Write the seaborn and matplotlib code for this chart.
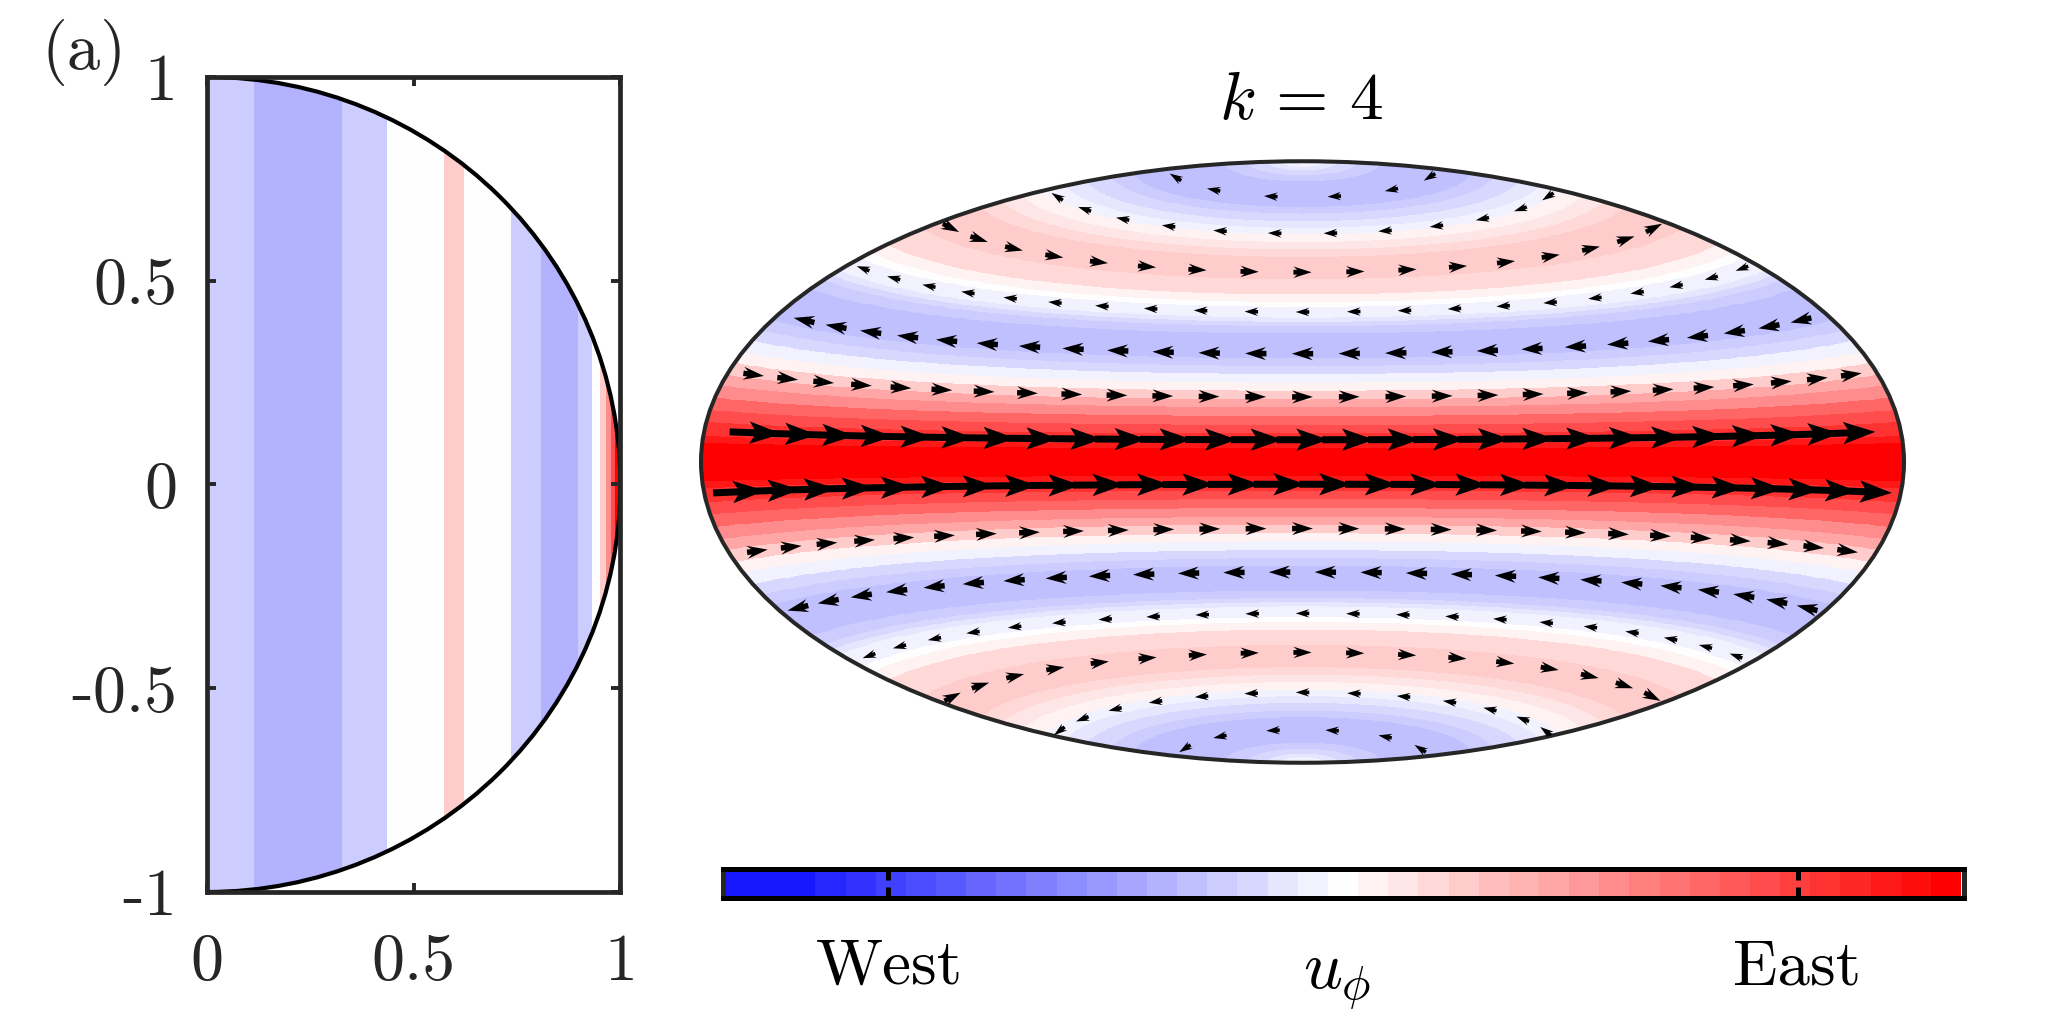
import numpy as np
import matplotlib
matplotlib.use("Agg")
import matplotlib.pyplot as plt
from matplotlib.colors import ListedColormap
from matplotlib.patches import Ellipse
import seaborn as sns

# ---- data ----
# cross-section panel: cylindrical radius band edges and colour steps (step / 20 = u)
section_edges = [0, .112, .326, .435, .572, .622, .735, .808, .897, .930, .950, .965, .976, .987, 1.0]
section_steps = [-4, -6, -4, 0, 4, 0, -4, -6, -4, 0, 4, 9, 14, 20]

# surface map: latitude band edges (deg, equator to pole) and colour steps
lat_edges = [0, 3.7, 5.0, 7.7, 10.0, 12.4, 14.8, 16.9, 19.3, 21.5,
             23.9, 26.1, 28.2, 35.2, 37.3, 38.5, 39.7, 42.8, 44.2, 46.4,
             50.9, 57.7, 60.0, 62.3, 64.7, 66.8, 69.0, 71.5, 73.7, 82.6,
             84.8, 86.6, 87.9, 89.1, 90]
lat_steps = [20, 18, 16, 14, 12, 9, 7, 4, 1, -1,
             -3, -4, -5, -4, -3, -2, -1, 0, 1, 3,
             4, 3, 2, 1, -1, -2, -3, -4, -5, -4,
             -3, -2, -1, 0]

# arrows: one row per latitude
row_lat = [77, 65, 53, 41.3, 29.5, 17.6, 6, -6, -18, -30, -41.7, -53.2, -65.6, -78]
row_count = [6, 12, 17, 21, 25, 27, 27, 28, 27, 26, 21, 17, 13, 6]
row_lonmax = [150, 165, 170, 172, 168, 170, 161, 167, 169, 172, 170, 170, 170, 150]
row_speed = [-.26, -.26, .35, -.26, -.41, .40, 1.0, 1.0, .40, -.41, -.26, .35, -.26, -.26]

x_ticks = [0, 0.5, 1]
x_labels = ["0", "0.5", "1"]
y_ticks = [-1, -0.5, 0, 0.5, 1]
y_labels = ["-1", "-0.5", "0", "0.5", "1"]
bar_ticks = [5.42, 35.58]
n_colors = 41

# ---- figure ----
W, H = 2066, 1021
DPI = 200
sns.set_theme(style="white")
plt.rcParams["mathtext.fontset"] = "cm"
plt.rcParams["axes.unicode_minus"] = False
DARK = "#262626"

palette = sns.blend_palette(["#0000ff", "#ffffff", "#ff0000"], n_colors)
palette[0] = palette[1] = palette[2]
cmap = ListedColormap(palette)


def box(x0, y0, x1, y1):
    return [x0 / W, 1 - y1 / H, (x1 - x0) / W, (y1 - y0) / H]


fig = plt.figure(figsize=(W / DPI, H / DPI), dpi=DPI, facecolor="white")

# ---- left: meridional section ----
ax = fig.add_axes(box(207.3, 77, 620.5, 892))
mesh = ax.pcolormesh(section_edges, [-1, 1], (np.array(section_steps) / 20)[None, :],
                     cmap=cmap, vmin=-1, vmax=1, antialiased=False)
clip = Ellipse((0, 0), 2, 2, transform=ax.transData, facecolor="none", edgecolor="none")
ax.add_patch(clip)
mesh.set_clip_path(clip)
ax.add_patch(Ellipse((0, 0), 2, 2, facecolor="none", edgecolor="black", linewidth=1.5))
ax.set_xlim(0, 1)
ax.set_ylim(-1, 1)
ax.set_axisbelow(False)
ax.set_xticks(x_ticks)
ax.set_xticklabels(x_labels, fontfamily="cmr10", fontsize=23.7, color=DARK)
ax.set_yticks(y_ticks)
ax.set_yticklabels(y_labels, fontfamily="cmr10", fontsize=23.7, color=DARK)
ax.tick_params(direction="in", top=True, right=True, bottom=True, left=True,
               length=3.2, width=1.4, color=DARK)
ax.tick_params(axis="x", pad=15)
ax.tick_params(axis="y", pad=10.7)
for s in ax.spines.values():
    s.set_visible(True)
    s.set_linewidth(1.7)
    s.set_color(DARK)

# ---- right: Hammer map ----
geo = fig.add_axes(box(701, 161, 1904, 763), projection="hammer")
lat_all = np.radians(np.r_[-np.array(lat_edges[:0:-1]), lat_edges])
steps_all = np.r_[lat_steps[::-1], lat_steps] / 20
lon_all = np.radians(np.linspace(-180, 180, 181))
geo.pcolormesh(lon_all, lat_all, np.tile(steps_all[:, None], (1, len(lon_all) - 1)),
               cmap=cmap, vmin=-1, vmax=1, antialiased=False, shading="flat")

qx, qy, qu = [], [], []
for lat, count, lonmax, speed in zip(row_lat, row_count, row_lonmax, row_speed):
    lons = np.linspace(-lonmax, lonmax, count)
    qx.append(np.radians(lons))
    qy.append(np.full(count, np.radians(lat)))
    qu.append(np.full(count, speed))
qx, qy, qu = map(np.concatenate, (qx, qy, qu))
fast = np.abs(qu) > 0.7
common = dict(color="black", pivot="mid", angles="xy", scale_units="inches", scale=DPI / 52,
              units="inches", minshaft=1, minlength=0, linewidth=0, zorder=3)
geo.quiver(qx[fast], qy[fast], qu[fast], np.zeros(fast.sum()), width=7 / DPI,
           headlength=4.6, headwidth=3.2, headaxislength=3.9, **common)
geo.quiver(qx[~fast], qy[~fast], qu[~fast], np.zeros((~fast).sum()), width=5.5 / DPI,
           headlength=3.8, headwidth=2.4, headaxislength=3.0, **common)
geo.grid(False)
geo.xaxis.set_ticklabels([])
geo.yaxis.set_ticklabels([])
geo.spines["geo"].set_linewidth(1.45)
geo.spines["geo"].set_edgecolor(DARK)

# ---- colour bar ----
cax = fig.add_axes(box(722.5, 868.5, 1963.5, 898.2))
sns.heatmap(np.arange(n_colors)[None, :], ax=cax, cmap=cmap, vmin=-0.5, vmax=n_colors - 0.5,
            cbar=False, xticklabels=False, yticklabels=False)
cax.set_xlim(-2.5 / 30.15, n_colors + 2.5 / 30.15)
cax.set_axisbelow(False)
cax.set_xticks(bar_ticks)
cax.set_xticklabels([])
cax.tick_params(axis="x", direction="in", top=True, bottom=True, length=4.1, width=1.8,
                color="black", labelbottom=False)
for name, s in cax.spines.items():
    s.set_visible(True)
    s.set_linewidth(1.8)
    s.set_color("black" if name in ("top", "bottom") else DARK)


def label(x, y, text, size, ha="center", family="cmr10", color="black"):
    fig.text(x / W, 1 - y / H, text, fontsize=size, ha=ha, va="baseline",
             family=family, color=color)


label(889, 984, "West", 23.5)
label(1797, 984, "East", 23.5)
label(1337, 988, r"$u_\phi$", 24.5, family="DejaVu Sans")
label(1301, 119, r"$k\,=\,4$", 24.3, family="DejaVu Sans")
label(41, 69, "(a)", 24, ha="left", color=DARK)

fig.savefig("out.png", dpi=DPI, facecolor="white")
